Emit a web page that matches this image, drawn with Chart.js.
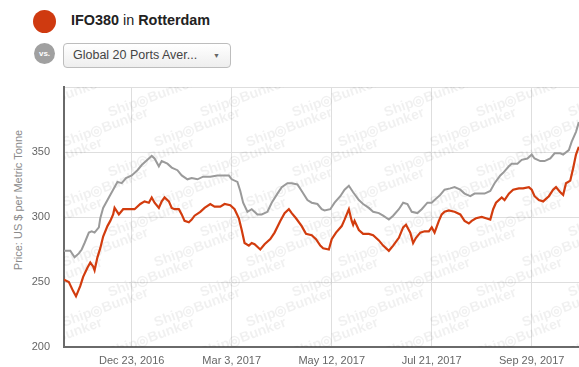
<!DOCTYPE html>
<html>
<head>
<meta charset="utf-8">
<title>IFO380 in Rotterdam</title>
<script src="https://cdn.jsdelivr.net/npm/chart.js@4.4.1/dist/chart.umd.min.js"></script>
<style>
  body { margin: 0; width: 579px; height: 367px; overflow: hidden; background: #fff; position: relative;
         font-family: "Liberation Sans", Arial, Helvetica, sans-serif; }
  .dot { position: absolute; border-radius: 50%; }
  #portDot { left: 33px; top: 10px; width: 23px; height: 23px; background: #cf3a10; }
  #vsDot { left: 34px; top: 43px; width: 21px; height: 21px; background: #a0a0a0; color: #fff;
           font-size: 8px; font-weight: bold; text-align: center; line-height: 21px; }
  #title { position: absolute; left: 71px; top: 12px; font-size: 14.4px; color: #222; }
  #title b { font-weight: bold; }
  #select { position: absolute; left: 63px; top: 43px; width: 166px; height: 23px; border: 1px solid #bdbdbd;
            border-radius: 4px; background: linear-gradient(#ffffff, #eeeeee); font-size: 12.5px; color: #444;
            line-height: 23px; box-sizing: content-box; }
  #select span { position: absolute; left: 9px; }
  #select i { position: absolute; right: 10px; top: 0; font-style: normal; font-size: 7px; color: #666; }
  #yTitle { position: absolute; left: 18px; top: 200px; transform: translate(-50%, -50%) rotate(-90deg);
            white-space: nowrap; font-size: 11px; color: #8a8a8a; }
  #wrap { position: absolute; left: 0; top: 80px; width: 579px; height: 287px; }
</style>
</head>
<body>
<div class="dot" id="portDot"></div>
<div id="title"><b>IFO380</b> in <b>Rotterdam</b></div>
<div class="dot" id="vsDot">vs.</div>
<div id="select"><span>Global 20 Ports Aver...</span><i>&#9660;</i></div>
<div id="yTitle">Price: US $ per Metric Tonne</div>
<div id="wrap"><canvas id="chart"></canvas></div>
<script>
// days counted from Dec 23, 2016
const tickDays = [0, 70, 140, 210, 280];
const tickLabels = ['Dec 23, 2016', 'Mar 3, 2017', 'May 12, 2017', 'Jul 21, 2017', 'Sep 29, 2017'];

const globalDays = [-48, -43, -40, -37, -35, -33, -30, -28, -26, -23, -22, -20, -16, -13, -10, -7, -4, 0, 4, 7,
  11, 14, 16, 19, 21, 25, 28, 32, 35, 39, 42, 46, 50, 55, 60, 64, 68, 70, 74, 76,
  78, 81, 84, 88, 91, 95, 98, 102, 105, 109, 112, 116, 119, 123, 126, 130, 133, 135, 139, 142,
  146, 149, 152, 155, 159, 162, 166, 169, 173, 176, 180, 183, 187, 190, 193, 196, 200, 203, 207, 210,
  212, 216, 219, 223, 226, 230, 233, 237, 240, 244, 247, 251, 254, 258, 260, 264, 266, 270, 273, 277,
  280, 282, 286, 289, 293, 296, 300, 302, 306, 308, 311, 313];
const globalPrices = [274, 274, 269, 272, 275, 280, 288, 289, 288, 292, 299, 307, 315, 321, 327, 326, 330, 332, 336, 340,
  344, 347, 345, 339, 343, 341, 338, 336, 332, 329, 330, 329, 331, 331, 332, 332, 332, 329, 327, 320,
  311, 304, 306, 302, 302, 304, 311, 318, 323, 326, 326, 325, 320, 313, 311, 310, 306, 305, 306, 311,
  316, 321, 324, 319, 313, 310, 307, 304, 303, 301, 298, 301, 306, 311, 310, 304, 303, 306, 311, 311,
  313, 317, 321, 322, 323, 321, 318, 316, 318, 318, 318, 320, 326, 332, 334, 339, 341, 341, 344, 345,
  348, 345, 343, 343, 345, 349, 349, 348, 351.5, 358, 365.5, 373];

const rotterdamDays = [-48, -44, -41, -39, -36, -34, -31, -29, -27, -26, -24, -22, -20, -17, -15, -13, -12, -9, -6, -1,
  2, 6, 9, 12, 14, 16, 19, 21, 23, 26, 28, 30, 33, 35, 37, 40, 42, 44, 48, 51,
  55, 58, 62, 65, 69, 72, 75, 77, 79, 82, 84, 86, 90, 93, 97, 100, 104, 107, 110, 112,
  115, 119, 122, 126, 129, 132, 134, 138, 140, 143, 147, 149, 152, 154, 155, 156, 159, 162, 166, 169,
  173, 176, 180, 183, 187, 190, 192, 195, 197, 199, 202, 205, 208, 210, 212, 215, 217, 219, 222, 226,
  230, 233, 236, 238, 241, 245, 248, 251, 253, 255, 259, 261, 264, 267, 271, 274, 278, 280, 282, 285,
  288, 292, 295, 297, 300, 302, 304, 307, 309, 311, 313];
const rotterdamPrices = [252, 250, 243, 239, 247, 254, 261, 265, 262, 259, 269, 276, 285, 293, 297, 302, 307, 302, 306, 306,
  306, 310, 312, 311, 315, 311, 307, 312, 315, 312, 307, 306, 306, 302, 297, 296, 298, 301, 304, 307,
  310, 308, 308, 310, 309, 306, 299, 290, 280, 278, 280, 279, 275, 279, 283, 288, 297, 303, 306, 303,
  299, 293, 287, 286, 283, 278, 276, 275, 283, 288, 293, 298, 306, 297, 294, 297, 290, 287, 287, 286,
  282, 278, 274, 278, 284, 292, 294, 288, 280, 284, 288, 289, 289, 292, 288, 297, 302, 304, 305, 304,
  302, 297, 295, 297, 299, 300, 299, 298, 306, 311, 315, 313, 318, 321, 322, 322, 323, 321, 316, 313,
  312, 316, 321, 323, 319, 317, 326, 328, 337.5, 348, 354];

function points(days, prices) {
  return days.map((d, i) => ({ x: d, y: prices[i] }));
}

// faint Ship&Bunker watermark behind the lines
const watermark = {
  id: 'watermark',
  beforeDatasetsDraw(chart) {
    const a = chart.chartArea;
    const ctx = chart.ctx;
    ctx.save();
    ctx.beginPath();
    ctx.rect(a.left, a.top, a.right - a.left, a.bottom - a.top);
    ctx.clip();
    ctx.font = 'bold 14px "Liberation Sans", Arial, sans-serif';
    ctx.fillStyle = 'rgba(0,0,0,0.06)';
    for (let row = -2; row < 12; row++) {
      for (let col = -1; col < 7; col++) {
        const x = a.left + col * 92 + (row % 2) * 46;
        const y = a.top + row * 30;
        ctx.save();
        ctx.translate(x, y);
        ctx.rotate(-0.35);
        ctx.fillText('Ship\u25CEBunker', 0, 0);
        ctx.restore();
      }
    }
    ctx.restore();
  }
};

function noPad(s) {
  s.paddingTop = 0;
  s.paddingBottom = 0;
}

new Chart(document.getElementById('chart').getContext('2d'), {
  type: 'line',
  data: {
    datasets: [
      {
        label: 'Global 20 Ports Average',
        data: points(globalDays, globalPrices),
        borderColor: '#9a9a9a',
        borderWidth: 2,
        pointRadius: 0,
        tension: 0
      },
      {
        label: 'IFO380 in Rotterdam',
        data: points(rotterdamDays, rotterdamPrices),
        borderColor: '#d23c0e',
        borderWidth: 2.2,
        pointRadius: 0,
        tension: 0
      }
    ]
  },
  options: {
    responsive: true,
    maintainAspectRatio: false,
    animation: false,
    layout: { padding: { top: 7, right: 0, bottom: 0, left: 0 } },
    plugins: { legend: { display: false }, tooltip: { enabled: false } },
    scales: {
      x: {
        type: 'linear',
        min: -47.4,
        max: 313.1,
        afterBuildTicks: s => { s.ticks = tickDays.map(v => ({ value: v })); },
        afterFit: s => { s.height = 20; s.paddingLeft = 0; s.paddingRight = 0; },
        ticks: {
          callback: v => tickLabels[tickDays.indexOf(v)],
          autoSkip: false,
          maxRotation: 0,
          padding: 7,
          color: '#666',
          font: { size: 11, family: '"Liberation Sans", Arial, sans-serif' }
        },
        grid: { color: '#dedede', drawTicks: false },
        border: { color: '#6a6a6a', width: 2 }
      },
      y: {
        min: 200,
        max: 400,
        afterFit: s => { s.width = 64; noPad(s); },
        ticks: {
          stepSize: 50,
          callback: v => (v === 400 ? '' : v),
          padding: 14,
          color: '#666',
          font: { size: 11, family: '"Liberation Sans", Arial, sans-serif' }
        },
        grid: { color: '#dedede', drawTicks: false },
        border: { color: '#6a6a6a', width: 2 }
      }
    }
  },
  plugins: [watermark]
});
</script>
</body>
</html>
